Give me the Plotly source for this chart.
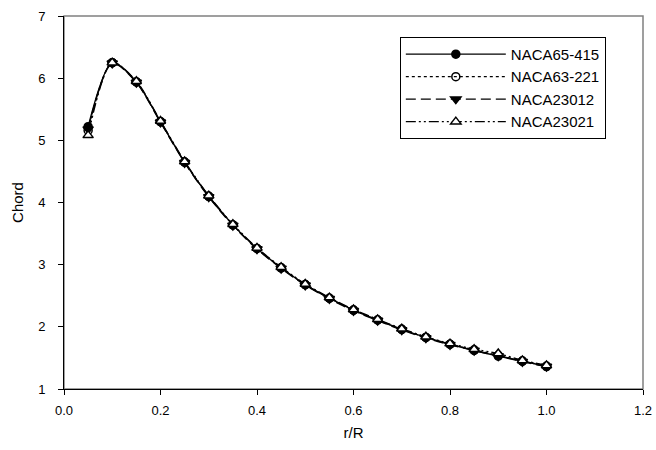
import plotly.graph_objects as go

r_R = [0.05, 0.10, 0.15, 0.20, 0.25, 0.30, 0.35, 0.40, 0.45, 0.50,
       0.55, 0.60, 0.65, 0.70, 0.75, 0.80, 0.85, 0.90, 0.95, 1.00]

naca65_415 = [5.22, 6.25, 5.94, 5.30, 4.65, 4.10, 3.64, 3.26, 2.95, 2.68,
              2.46, 2.27, 2.11, 1.96, 1.83, 1.72, 1.62, 1.53, 1.45, 1.36]
naca63_221 = [5.16, 6.25, 5.94, 5.30, 4.65, 4.10, 3.64, 3.26, 2.95, 2.68,
              2.46, 2.27, 2.11, 1.96, 1.83, 1.72, 1.63, 1.54, 1.45, 1.37]
naca23012 = [5.18, 6.24, 5.93, 5.29, 4.64, 4.09, 3.63, 3.25, 2.94, 2.67,
             2.45, 2.26, 2.10, 1.95, 1.82, 1.71, 1.62, 1.53, 1.44, 1.36]
naca23021 = [5.08, 6.25, 5.95, 5.31, 4.66, 4.11, 3.65, 3.27, 2.96, 2.69,
             2.47, 2.28, 2.12, 1.97, 1.84, 1.73, 1.64, 1.57, 1.46, 1.38]

series_names = ["NACA65-415", "NACA63-221", "NACA23012", "NACA23021"]
x_ticks = [0.0, 0.2, 0.4, 0.6, 0.8, 1.0, 1.2]
y_ticks = [1, 2, 3, 4, 5, 6, 7]

styles = [
    dict(dash="solid", symbol="circle"),
    dict(dash="dot", symbol="circle-open"),
    dict(dash="10px,5px", symbol="triangle-down"),
    dict(dash="10px,3px,2px,3px,2px,3px", symbol="triangle-up"),
]

fig = go.Figure()
for name, ys, st in zip(series_names, [naca65_415, naca63_221, naca23012, naca23021], styles):
    is_tri_up = st["symbol"] == "triangle-up"
    fig.add_trace(go.Scatter(
        x=r_R, y=ys, name=name, mode="lines+markers",
        line=dict(color="black", width=1.4, dash=st["dash"], shape="spline", smoothing=0.8),
        marker=dict(symbol=st["symbol"], size=9 if "triangle" in st["symbol"] else 8,
                    color="white" if is_tri_up else "black",
                    line=dict(color="black", width=1.5)),
    ))

fig.update_layout(
    template="none",
    width=656, height=450,
    margin=dict(l=64, r=13, t=16, b=61),
    paper_bgcolor="white", plot_bgcolor="white",
    font=dict(family="Liberation Sans, Arial, sans-serif", size=13, color="black"),
    showlegend=True,
    legend=dict(x=0.58, y=0.944, xanchor="left", yanchor="top",
                bordercolor="black", borderwidth=1, bgcolor="white",
                itemwidth=100, font=dict(size=15, color="black"), tracegroupgap=0),
    shapes=[dict(type="rect", xref="paper", yref="paper", x0=0, x1=1, y0=0, y1=1,
                 line=dict(color="#808080", width=1.5), layer="below")],
)
fig.update_xaxes(range=[0, 1.2], tickvals=x_ticks, ticktext=[f"{v:.1f}" for v in x_ticks],
                 showgrid=False, zeroline=False, showline=True, linecolor="black", linewidth=1,
                 ticks="outside", ticklen=5, tickcolor="black", ticklabelstandoff=4,
                 title=dict(text="r/R", font=dict(size=15, color="black"), standoff=10),
                 tickfont=dict(size=13, color="black"))
fig.update_yaxes(range=[1, 7], tickvals=y_ticks,
                 showgrid=False, zeroline=False, showline=True, linecolor="black", linewidth=1,
                 ticks="outside", ticklen=5, tickcolor="black", ticklabelstandoff=10,
                 title=dict(text="Chord", font=dict(size=15, color="black"), standoff=10),
                 tickfont=dict(size=13, color="black"))

fig.write_html("out.html", config={"displayModeBar": False},
               post_script="document.body.style.margin='0';")
